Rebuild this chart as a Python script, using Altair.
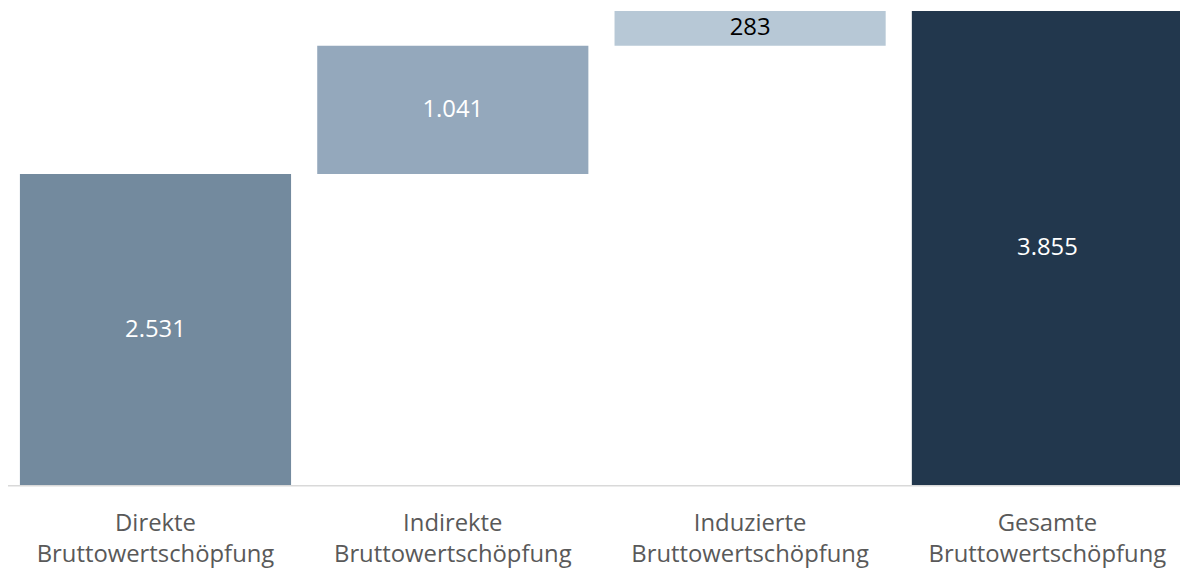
import altair as alt
import pandas as pd

categories = [
    "Direkte|Bruttowertschöpfung",
    "Indirekte|Bruttowertschöpfung",
    "Induzierte|Bruttowertschöpfung",
    "Gesamte|Bruttowertschöpfung",
]
values = [2531, 1041, 283, 3855]
is_total = [False, False, False, True]

bar_colors = ["#738a9e", "#94a8bc", "#b7c8d6", "#22374d"]
label_colors = ["#ffffff", "#ffffff", "#000000", "#ffffff"]

starts, ends = [], []
running = 0
for v, tot in zip(values, is_total):
    if tot:
        starts.append(0)
        ends.append(v)
    else:
        starts.append(running)
        ends.append(running + v)
        running += v

df = pd.DataFrame({
    "cat": categories,
    "start": starts,
    "end": ends,
    "mid": [(s + e) / 2 for s, e in zip(starts, ends)],
    "label": [f"{v:,}".replace(",", ".") for v in values],
})

x_enc = alt.X(
    "cat:N",
    sort=categories,
    scale=alt.Scale(range=[12, 1183], paddingInner=0.088, paddingOuter=0),
    axis=alt.Axis(
        title=None,
        domain=False,
        ticks=False,
        labelExpr="split(datum.value, '|')",
        labelFont="Open Sans",
        labelFontSize=24,
        labelLineHeight=31,
        labelColor="#595959",
        labelPadding=26,
        labelAngle=0,
        labelLimit=0,
    ),
)
y_scale = alt.Scale(domain=[0, 3855], nice=False, zero=True)

bars = alt.Chart(df).mark_bar().encode(
    x=x_enc,
    y=alt.Y("start:Q", scale=y_scale, axis=None),
    y2="end:Q",
    color=alt.Color("cat:N", scale=alt.Scale(domain=categories, range=bar_colors), legend=None),
)

texts = alt.Chart(df).mark_text(font="Open Sans", fontSize=24, baseline="middle").encode(
    x=alt.X("cat:N", sort=categories),
    y=alt.Y("mid:Q", scale=y_scale),
    text="label:N",
    color=alt.Color("cat:N", scale=alt.Scale(domain=categories, range=label_colors), legend=None),
)

baseline = alt.Chart(pd.DataFrame({"y": [0]})).mark_rule(color="#d9d9d9", strokeWidth=1.5).encode(
    y=alt.Y("y:Q", scale=y_scale),
    x=alt.value(-1),
    x2=alt.value(1180),
)

chart = alt.layer(bars, texts, baseline).resolve_scale(color="independent").properties(
    width=1180,
    height=478,
    autosize=alt.AutoSizeParams(type="none"),
    padding={"left": 0, "top": 1, "right": 0, "bottom": 84},
).configure_view(stroke=None)

chart.save("out.html", embed_options={"renderer": "svg", "actions": False})
